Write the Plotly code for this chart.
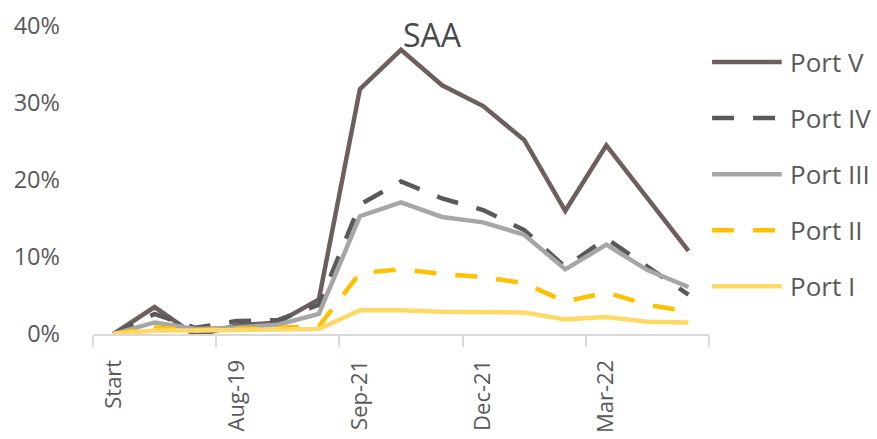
import plotly.graph_objects as go

# ---- data ----
n_periods = 15
tick_index = [0, 3, 6, 9, 12]
tick_labels = ["Start", "Aug-19", "Sep-21", "Dec-21", "Mar-22"]

series_names = ["Port V", "Port IV", "Port III", "Port II", "Port I"]
port_v = [0.0, 0.035, -0.002, 0.011, 0.015, 0.045, 0.318, 0.369, 0.323, 0.296, 0.252, 0.160, 0.245, 0.176, 0.108]
port_iv = [0.0, 0.026, 0.008, 0.017, 0.018, 0.038, 0.168, 0.198, 0.176, 0.161, 0.135, 0.087, 0.124, 0.087, 0.051]
port_iii = [0.0, 0.015, 0.0065, 0.0085, 0.012, 0.026, 0.153, 0.171, 0.152, 0.145, 0.129, 0.084, 0.116, 0.083, 0.061]
port_ii = [0.0, 0.0085, 0.005, 0.006, 0.008, 0.010, 0.079, 0.084, 0.078, 0.074, 0.066, 0.042, 0.054, 0.038, 0.029]
port_i = [0.0, 0.0045, 0.0045, 0.0055, 0.0065, 0.0065, 0.031, 0.031, 0.029, 0.029, 0.028, 0.019, 0.022, 0.016, 0.015]
values = [port_v, port_iv, port_iii, port_ii, port_i]

colors = ["#6e5f5f", "#595959", "#a6a6a6", "#ffc000", "#ffd966"]
dashes = ["solid", "22px,19px", "solid", "22px,19px", "solid"]

FONT = "Open Sans"
TXT = "#595959"

x = list(range(n_periods))
fig = go.Figure()
for name, vals, col, dash in zip(series_names, values, colors, dashes):
    fig.add_trace(go.Scatter(x=x, y=vals, name=name, mode="lines",
                             line=dict(color=col, width=4.5, dash=dash),
                             showlegend=False))

# manual legend (long line samples like the original)
leg_y0 = 0.883
leg_step = 0.182
for i, (name, col, dash) in enumerate(zip(series_names, colors, dashes)):
    yy = leg_y0 - i * leg_step
    fig.add_shape(type="line", xref="paper", yref="paper",
                  x0=1.005, x1=1.118, y0=yy, y1=yy,
                  line=dict(color=col, width=4.5, dash=dash))
    fig.add_annotation(text=name, xref="paper", yref="paper",
                       x=1.128, y=yy, xanchor="left", yanchor="middle",
                       showarrow=False,
                       font=dict(family=FONT, size=26, color=TXT))

fig.add_annotation(text="SAA", xref="paper", yref="paper", x=0.551, y=0.972,
                   xanchor="center", yanchor="middle", showarrow=False,
                   font=dict(family=FONT, size=32, color="#4a4a4a"))

fig.update_xaxes(range=[-0.5, n_periods - 0.5], tickmode="array",
                 tickvals=tick_index, ticktext=tick_labels, tickangle=-90,
                 ticks="", showgrid=False, zeroline=False, automargin=False,
                 showline=True, linecolor="#d9d9d9", linewidth=2,
                 tickfont=dict(family=FONT, size=22, color=TXT),
                 ticklabelstandoff=15,
                 minor=dict(tick0=-0.5, dtick=3, ticks="outside", ticklen=11,
                            tickcolor="#d9d9d9", tickwidth=2, showgrid=False))
fig.update_yaxes(range=[0, 0.4], tickmode="array",
                 tickvals=[0, 0.1, 0.2, 0.3, 0.4], tickformat=".0%",
                 showgrid=False, zeroline=False, showline=False, ticks="",
                 automargin=False,
                 tickfont=dict(family=FONT, size=23.5, color=TXT),
                 ticklabelstandoff=32)

fig.update_layout(width=877, height=439,
                  margin=dict(l=93, r=168, t=26, b=105),
                  paper_bgcolor="white", plot_bgcolor="white",
                  font=dict(family=FONT, color=TXT))

fig.write_html("out.html")
